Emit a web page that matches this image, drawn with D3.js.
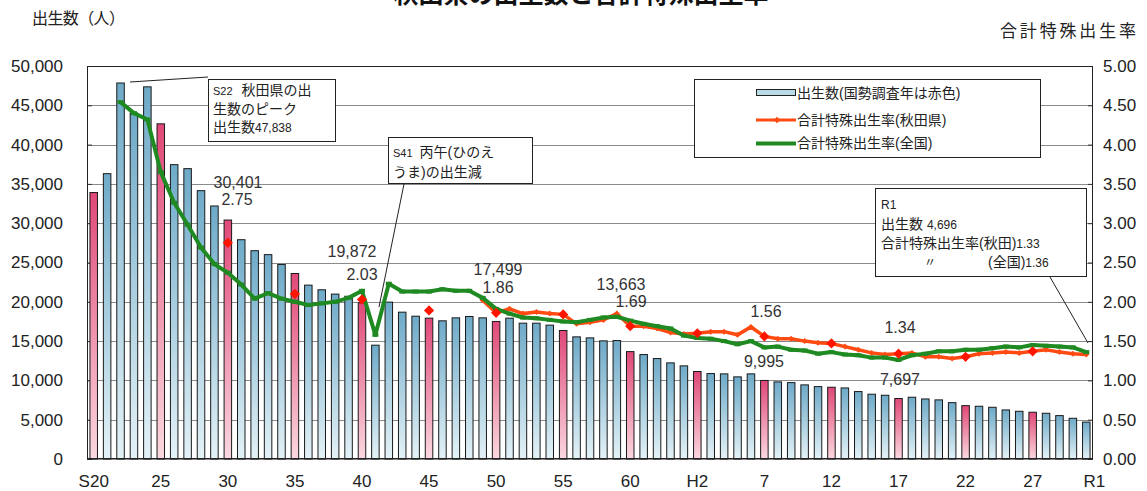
<!DOCTYPE html>
<html><head><meta charset="utf-8">
<script src="https://cdn.jsdelivr.net/npm/d3@7"></script>
<style>
html,body{margin:0;padding:0;background:#fff;}
svg{display:block;}
text{font-family:"Liberation Sans","Noto Sans CJK JP",sans-serif;fill:#222;}
</style></head>
<body>
<svg id="c" width="1147" height="491"></svg>
<script>
const categories = ["S20","S21","S22","S23","S24","S25","S26","S27","S28","S29","S30","S31","S32","S33","S34","S35","S36","S37","S38","S39","S40","S41","S42","S43","S44","S45","S46","S47","S48","S49","S50","S51","S52","S53","S54","S55","S56","S57","S58","S59","S60","S61","S62","S63","H1","H2","H3","H4","H5","H6","H7","H8","H9","H10","H11","H12","H13","H14","H15","H16","H17","H18","H19","H20","H21","H22","H23","H24","H25","H26","H27","H28","H29","H30","R1"];
const censusYears = ["S20","S25","S30","S35","S40","S45","S50","S55","S60","H2","H7","H12","H17","H22","H27"];
const births = [33900,36300,47838,44000,47350,42640,37450,36940,34140,32190,30401,27900,26500,26000,24750,23600,22120,21530,20980,20700,19872,14480,19960,18680,18170,17920,17580,17960,18130,17960,17499,17920,17280,17280,17030,16350,15540,15410,15030,15070,13663,13290,12780,12230,11850,11130,10870,10830,10450,10830,9995,9810,9720,9430,9210,9130,9040,8580,8240,8110,7697,7860,7640,7520,7170,6790,6710,6580,6240,6070,5950,5820,5520,5180,4696];
const tfrNational = [null,null,4.54,4.40,4.32,3.65,3.26,2.98,2.69,2.48,2.37,2.22,2.04,2.11,2.04,2.00,1.96,1.98,2.00,2.05,2.14,1.58,2.23,2.13,2.13,2.13,2.16,2.14,2.14,2.05,1.91,1.85,1.80,1.79,1.77,1.75,1.74,1.77,1.80,1.81,1.76,1.72,1.69,1.66,1.57,1.54,1.53,1.50,1.46,1.50,1.42,1.43,1.39,1.38,1.34,1.36,1.33,1.32,1.29,1.29,1.26,1.32,1.34,1.37,1.37,1.39,1.39,1.41,1.43,1.42,1.45,1.44,1.43,1.42,1.36];
const tfrAkita = [null,null,null,null,null,null,null,null,null,null,2.75,null,null,null,null,2.10,null,null,null,null,2.03,null,null,null,null,1.89,null,null,null,2.02,1.86,1.91,1.85,1.87,1.85,1.84,1.72,1.74,1.77,1.85,1.69,1.69,1.66,1.61,1.59,1.60,1.62,1.62,1.58,1.68,1.56,1.53,1.53,1.50,1.48,1.47,1.43,1.39,1.35,1.33,1.34,1.35,1.30,1.30,1.28,1.30,1.34,1.35,1.36,1.35,1.37,1.39,1.36,1.34,1.33];
const xTickValues = ["S20","S25","S30","S35","S40","S45","S50","S55","S60","H2","H7","H12","H17","H22","H27","R1"];
const xTickLabels = ["S20","25","30","35","40","45","50","55","60","H2","7","12","17","22","27","R1"];
const leftTicks = [0,5000,10000,15000,20000,25000,30000,35000,40000,45000,50000];
const rightTicks = [0,0.5,1,1.5,2,2.5,3,3.5,4,4.5,5];
const legendLabels = ["出生数(国勢調査年は赤色)","合計特殊出生率(秋田県)","合計特殊出生率(全国)"];

const svg = d3.select("#c");
const L=87,R=1093,T=66,B=459;
const x = d3.scaleBand().domain(categories).range([L,R]).paddingInner(0.44).paddingOuter(0.22);
const y = d3.scaleLinear().domain([0,50000]).range([B,T]);
const y2 = d3.scaleLinear().domain([0,5]).range([B,T]);
const cx = c => x(c)+x.bandwidth()/2;

const defs = svg.append("defs");
function grad(id,top,bot){
  const g=defs.append("linearGradient").attr("id",id).attr("x1",0).attr("y1",0).attr("x2",0).attr("y2",1);
  g.append("stop").attr("offset","0%").attr("stop-color",top);
  g.append("stop").attr("offset","100%").attr("stop-color",bot);
}
grad("gBlue","#6eaac8","#e4f2f7");
grad("gPink","#e04878","#fbd8e0");

// title (cut off at top, as in the reference)
svg.append("text").attr("x",581).attr("y",3).attr("text-anchor","middle")
  .style("font-size","25px").style("font-weight","bold").style("font-family","'Noto Sans CJK JP'").style("fill","#111")
  .text("秋田県の出生数と合計特殊出生率");

svg.append("text").attr("x",32).attr("y",24).style("font-size","16px")
  .attr("textLength",93).attr("lengthAdjust","spacing").text("出生数（人）");
svg.append("text").attr("x",1136).attr("y",37).attr("text-anchor","end").style("font-size","17px")
  .attr("textLength",136).attr("lengthAdjust","spacing").text("合計特殊出生率");

// gridlines
svg.append("g").selectAll("line").data(leftTicks).join("line")
  .attr("x1",L).attr("x2",R).attr("y1",d=>Math.round(y(d))+0.5).attr("y2",d=>Math.round(y(d))+0.5)
  .attr("stroke","#8a8a8a").attr("stroke-width",1);

// axes
const ax1 = svg.append("g").attr("transform",`translate(${L},0)`)
  .call(d3.axisLeft(y).tickValues(leftTicks).tickFormat(d3.format(",")).tickSizeInner(-5).tickSizeOuter(0).tickPadding(24));
const ax2 = svg.append("g").attr("transform",`translate(${R},0)`)
  .call(d3.axisRight(y2).tickValues(rightTicks).tickFormat(d3.format(".2f")).tickSizeInner(-5).tickSizeOuter(0).tickPadding(10));
const ax3 = svg.append("g").attr("transform",`translate(0,${B})`)
  .call(d3.axisBottom(x).tickValues(xTickValues).tickFormat(d=>xTickLabels[xTickValues.indexOf(d)]).tickSize(0).tickPadding(16));
[ax1,ax2,ax3].forEach(a=>{a.select(".domain").remove(); a.selectAll("text").style("font-size","17px").style("fill","#222").style("font-family","'Liberation Sans'"); a.selectAll("line").attr("stroke","#333");});
ax3.selectAll(".tick").filter(d=>d==="R1").select("text").attr("dx",8);

// bars
svg.append("g").selectAll("rect").data(categories).join("rect")
  .attr("x",d=>x(d)).attr("width",x.bandwidth())
  .attr("y",(d,i)=>y(births[i])).attr("height",(d,i)=>B-y(births[i]))
  .attr("fill",d=>censusYears.includes(d)?"url(#gPink)":"url(#gBlue)")
  .attr("stroke","#1a1a1a").attr("stroke-width",1);

// frame
svg.append("rect").attr("x",L+0.5).attr("y",T+0.5).attr("width",R-L-1).attr("height",B-T-1)
  .attr("fill","none").attr("stroke","#222").attr("stroke-width",1);

// Akita line
const ak = categories.map((c,i)=>({c,v:tfrAkita[i]}));
const line = d3.line().defined(d=>d.v!=null).x(d=>cx(d.c)).y(d=>y2(d.v));
svg.append("path").datum(ak).attr("d",line).attr("fill","none").attr("stroke","#ff4a12").attr("stroke-width",3.5);
svg.append("g").selectAll("path").data(ak.filter(d=>d.v!=null && !censusYears.includes(d.c))).join("path")
  .attr("d",d3.symbol(d3.symbolSquare,18)).attr("fill","#ff4a12")
  .attr("transform",d=>`translate(${cx(d.c)},${y2(d.v)}) rotate(45)`);

// National line
const na = categories.map((c,i)=>({c,v:tfrNational[i]}));
svg.append("path").datum(na).attr("d",line).attr("fill","none").attr("stroke","#1f8a22").attr("stroke-width",4).attr("stroke-linejoin","round");
svg.append("g").selectAll("rect").data(na.filter(d=>d.v!=null)).join("rect")
  .attr("x",d=>cx(d.c)-3).attr("y",d=>y2(d.v)-2).attr("width",6).attr("height",4).attr("fill","#1f8a22");

// Akita census markers
svg.append("g").selectAll("path").data(ak.filter(d=>d.v!=null && censusYears.includes(d.c))).join("path")
  .attr("d",d3.symbol(d3.symbolSquare,52)).attr("fill","#ff1400")
  .attr("transform",d=>`translate(${cx(d.c)},${y2(d.v)}) rotate(45)`);

// value labels
function lbl(xp,yp,t){svg.append("text").attr("x",xp).attr("y",yp).attr("text-anchor","middle").style("font-size","16px").style("fill","#333").text(t);}
lbl(238,188,"30,401"); lbl(237,205,"2.75");
lbl(352,257,"19,872"); lbl(362,280,"2.03");
lbl(498,275,"17,499"); lbl(498,293,"1.86");
lbl(621,290,"13,663"); lbl(631,307,"1.69");
lbl(766,317,"1.56"); lbl(764,367,"9,995");
lbl(900,333,"1.34"); lbl(900,385,"7,697");

// legend
const lg = svg.append("g");
lg.append("rect").attr("x",694.5).attr("y",79.5).attr("width",346).attr("height",78).attr("fill","#fff").attr("stroke","#222");
lg.append("rect").attr("x",756.5).attr("y",89.5).attr("width",39).attr("height",6).attr("fill","#b9dbe6").attr("stroke","#222");
lg.append("line").attr("x1",756).attr("x2",796).attr("y1",120).attr("y2",120).attr("stroke","#ff4a12").attr("stroke-width",3);
lg.append("path").attr("d",d3.symbol(d3.symbolSquare,22)).attr("fill","#ff4a12").attr("transform","translate(777,120) rotate(45)");
lg.append("line").attr("x1",756).attr("x2",796).attr("y1",143.5).attr("y2",143.5).attr("stroke","#1f8a22").attr("stroke-width",4);
legendLabels.forEach((t,i)=>lg.append("text").attr("x",797).attr("y",[98,125,148][i]).style("font-size","14px").text(t));

// annotation S22
const an = svg.append("g");
an.append("line").attr("x1",130).attr("y1",82).attr("x2",208).attr("y2",77).attr("stroke","#222");
an.append("rect").attr("x",208.5).attr("y",79.5).attr("width",127).attr("height",62).attr("fill","#fff").attr("stroke","#222");
let t1 = an.append("text").attr("x",213).attr("y",95).style("font-size","14px");
t1.append("tspan").style("font-size","11px").text("S22");
t1.append("tspan").attr("dx",9).text("秋田県の出");
an.append("text").attr("x",213).attr("y",114).style("font-size","14px").text("生数のピーク");
let t3 = an.append("text").attr("x",213).attr("y",132).style("font-size","14px");
t3.append("tspan").text("出生数");
t3.append("tspan").style("font-size","12px").text("47,838");

// annotation S41
an.append("line").attr("x1",404).attr("y1",184).attr("x2",379).attr("y2",307).attr("stroke","#222");
an.append("rect").attr("x",388.5).attr("y",137.5).attr("width",144).attr("height",46).attr("fill","#fff").attr("stroke","#222");
let t4 = an.append("text").attr("x",393).attr("y",157).style("font-size","14px");
t4.append("tspan").style("font-size","11px").text("S41");
t4.append("tspan").attr("dx",7).text("丙午(ひのえ");
an.append("text").attr("x",393).attr("y",177).style("font-size","14px").text("うま)の出生減");

// annotation R1
an.append("line").attr("x1",1050).attr("y1",277).attr("x2",1088).attr("y2",343).attr("stroke","#222");
an.append("rect").attr("x",875.5).attr("y",188.5).attr("width",211).attr("height",88).attr("fill","#fff").attr("stroke","#222");
an.append("text").attr("x",881).attr("y",209).style("font-size","12px").text("R1");
let t5 = an.append("text").attr("x",881).attr("y",229).style("font-size","14px");
t5.append("tspan").text("出生数 ");
t5.append("tspan").style("font-size","12px").text("4,696");
let t6 = an.append("text").attr("x",881).attr("y",248).style("font-size","14px");
t6.append("tspan").text("合計特殊出生率(秋田)");
t6.append("tspan").style("font-size","12px").text("1.33");
an.append("text").attr("x",924).attr("y",267).style("font-size","12px").text("〃");
let t7 = an.append("text").attr("x",988).attr("y",267).style("font-size","14px");
t7.append("tspan").text("(全国)");
t7.append("tspan").style("font-size","12px").text("1.36");
</script>
</body></html>
